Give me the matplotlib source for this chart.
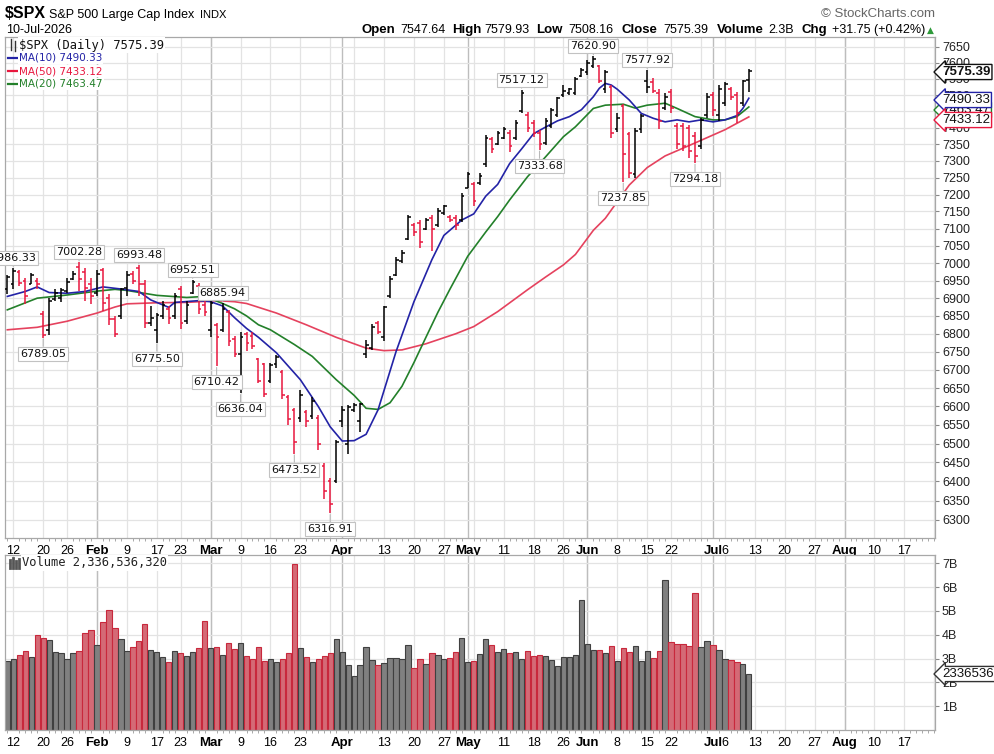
import numpy as np
import pandas as pd
import matplotlib
matplotlib.use('Agg')
import matplotlib.pyplot as plt
from matplotlib.lines import Line2D
from matplotlib.ticker import FixedLocator, NullLocator, FuncFormatter

# trading calendar
holidays = ['2026-01-19', '2026-02-16', '2026-04-03', '2026-05-25', '2026-06-19', '2026-07-03']
first_day, last_day, axis_end = '2026-01-09', '2026-07-10', '2026-08-31'

# daily OHLC
opens = [6925, 6940, 6975, 6950, 6940, 6950, 6855, 6810, 6898, 6900,
         6920, 6955, 6990, 6975, 6940, 6915, 6980, 6900, 6840, 6850,
         6930, 6970, 6985, 6940, 6830, 6810, 6850, 6870, 6850, 6925,
         6835, 6915, 6935, 6880, 6810, 6825, 6810, 6860, 6785, 6745,
         6800, 6795, 6730, 6715, 6670, 6715, 6695, 6625, 6590, 6570,
         6585, 6575, 6570, 6440, 6400, 6400, 6560, 6500, 6590, 6560,
         6745, 6760, 6830, 6790, 6905, 6965, 7005, 7070, 7110, 7115,
         7100, 7130, 7110, 7145, 7135, 7130, 7125, 7220, 7230, 7235,
         7290, 7365, 7350, 7370, 7385, 7370, 7450, 7440, 7415, 7385,
         7355, 7405, 7440, 7500, 7505, 7505, 7560, 7570, 7590, 7590,
         7520, 7525, 7395, 7465, 7380, 7260, 7395, 7545, 7540, 7505,
         7460, 7510, 7405, 7405, 7400, 7375, 7345, 7440, 7500, 7440,
         7475, 7520, 7500, 7475, 7547.64]
highs = [6967, 6986.33, 6980, 6958, 6972, 6958, 6864, 6901, 6925, 6930,
         6958, 6976, 7002.28, 6986, 6958, 6981, 6986, 6911, 6850, 6930,
         6976, 6976, 6993.48, 6952, 6877, 6858, 6891, 6877, 6915, 6934,
         6891, 6952.51, 6943, 6891, 6891, 6830, 6885.94, 6868, 6793, 6805,
         6805, 6805, 6733, 6720, 6720, 6742, 6700, 6630, 6596, 6644,
         6590, 6626, 6578, 6448, 6410, 6510, 6600, 6603, 6610, 6610,
         6783, 6827, 6836, 6877, 6962, 7019, 7038, 7141, 7115, 7124,
         7130, 7140, 7160, 7170, 7140, 7140, 7204, 7268, 7238, 7263,
         7378, 7373, 7390, 7401, 7394, 7424, 7517.12, 7449, 7424, 7394,
         7429, 7460, 7495, 7531, 7521, 7557, 7583, 7609, 7620.90, 7594,
         7578, 7530, 7445, 7474, 7386, 7400, 7443, 7577.92, 7552, 7520,
         7505, 7520, 7414, 7416, 7407, 7386, 7431, 7505, 7510, 7531,
         7541, 7525, 7510, 7548, 7579.93]
lows = [6911, 6925, 6934, 6883, 6939, 6925, 6789.05, 6797, 6892, 6888,
        6916, 6953, 6920, 6892, 6883, 6906, 6864, 6825, 6790, 6840,
        6905, 6939, 6905, 6816, 6821, 6775.50, 6840, 6826, 6840, 6812,
        6826, 6911, 6854, 6849, 6790, 6710.42, 6805, 6766, 6735, 6636.04,
        6752, 6757, 6664, 6626, 6664, 6706, 6620, 6550, 6473.52, 6557,
        6545, 6565, 6482, 6353, 6316.91, 6395, 6545, 6473, 6585, 6532,
        6733, 6755, 6800, 6780, 6900, 6962, 7000, 7067, 7077, 7043,
        7096, 7034, 7106, 7140, 7120, 7096, 7120, 7218, 7165, 7228,
        7283, 7323, 7348, 7366, 7327, 7363, 7444, 7388, 7373, 7333.68,
        7347, 7399, 7434, 7495, 7500, 7500, 7557, 7562, 7583, 7538,
        7505, 7370, 7386, 7237.85, 7250, 7248, 7384, 7505, 7505, 7395,
        7453, 7445, 7337, 7330, 7310, 7294.18, 7337, 7431, 7437, 7420,
        7467, 7485, 7416, 7467, 7508.16]
closes = [6960, 6977, 6944, 6905, 6966, 6940, 6797, 6893, 6915, 6922,
          6945, 6970, 6955, 6930, 6905, 6970, 6885, 6840, 6800, 6925,
          6965, 6950, 6940, 6830, 6845, 6852, 6880, 6845, 6905, 6830,
          6880, 6945, 6870, 6860, 6885, 6790, 6870, 6780, 6745, 6790,
          6775, 6765, 6670, 6635, 6712, 6735, 6630, 6565, 6505, 6630,
          6560, 6615, 6500, 6375, 6340, 6505, 6590, 6598, 6605, 6608,
          6770, 6820, 6805, 6875, 6955, 7010, 7030, 7135, 7090, 7060,
          7125, 7100, 7150, 7165, 7125, 7110, 7195, 7260, 7180, 7255,
          7370, 7335, 7385, 7395, 7345, 7415, 7505, 7400, 7385, 7350,
          7420, 7455, 7490, 7512, 7518, 7550, 7578, 7600, 7612, 7545,
          7570, 7385, 7430, 7320, 7265, 7390, 7435, 7525, 7512, 7420,
          7495, 7460, 7350, 7345, 7330, 7315, 7425, 7495, 7455, 7520,
          7535, 7495, 7445, 7543.64, 7575.39]
prev_close = 6920.0

# volume in billions
volumes_b = [2.91, 2.98, 3.16, 3.33, 3.08, 3.97, 3.87, 3.78, 3.26, 3.22,
             2.98, 3.22, 3.33, 4.06, 4.22, 3.57, 4.53, 5.06, 4.28, 3.83,
             3.33, 3.47, 3.73, 4.46, 3.38, 3.26, 3.05, 2.87, 3.33, 3.22,
             3.12, 3.26, 3.43, 4.57, 3.43, 3.47, 3.16, 3.66, 3.39, 3.66,
             3.12, 2.98, 3.47, 2.91, 2.98, 2.87, 2.98, 3.22, 6.99, 3.43,
             3.08, 2.87, 2.98, 3.12, 3.22, 3.83, 3.26, 2.73, 2.28, 2.73,
             3.47, 2.94, 2.73, 2.81, 3.02, 3.02, 2.98, 3.57, 2.59, 2.98,
             2.77, 3.22, 3.16, 2.98, 3.02, 3.26, 3.87, 2.87, 2.91, 3.19,
             3.83, 3.57, 3.26, 3.40, 3.22, 3.26, 2.98, 3.33, 3.12, 3.16,
             3.12, 2.94, 2.67, 3.08, 3.08, 3.16, 5.47, 3.61, 3.38, 3.38,
             3.22, 3.52, 2.91, 3.43, 3.26, 3.52, 2.91, 3.33, 3.02, 3.33,
             6.32, 3.68, 3.61, 3.61, 3.52, 5.75, 3.47, 3.73, 3.57, 3.38,
             2.98, 2.94, 2.87, 2.77, 2.336536320]

# moving averages (bar index, value)
ma10_idx = [0, 3, 5, 7, 10, 13, 16, 19, 22, 24, 26, 27, 28, 32, 34, 36, 38, 40, 42, 45,
            49, 52, 54, 56, 58, 60, 62, 65, 68, 71, 73, 76, 78, 80, 82, 84, 86, 88, 90, 92,
            94, 96, 98, 99, 100, 101, 102, 104, 106, 108, 110, 112, 114, 116, 118, 120, 122, 123, 124]
ma10_val = [6905, 6919, 6932, 6916, 6914, 6919, 6932, 6926, 6919, 6895, 6881, 6874, 6888, 6893, 6890, 6878, 6845, 6815, 6790, 6747,
            6673, 6600, 6545, 6507, 6508, 6525, 6591, 6750, 6890, 7010, 7080, 7125, 7143, 7195, 7230, 7292, 7336, 7382, 7402, 7421,
            7434, 7455, 7495, 7521, 7536, 7531, 7518, 7485, 7444, 7429, 7418, 7424, 7418, 7424, 7418, 7424, 7437, 7459, 7490.33]
ma20_idx = [0, 5, 10, 15, 18, 20, 25, 30, 33, 36, 38, 40, 42, 44, 48, 51, 55, 58, 60, 62,
            64, 66, 68, 70, 72, 74, 77, 80, 82, 84, 87, 90, 93, 95, 98, 100, 103, 105, 107, 110,
            112, 115, 118, 120, 122, 124]
ma20_val = [6867, 6900, 6909, 6920, 6925, 6922, 6908, 6902, 6905, 6885, 6870, 6850, 6825, 6811, 6770, 6737, 6673, 6630, 6595, 6592,
            6610, 6655, 6720, 6790, 6860, 6925, 7020, 7090, 7135, 7184, 7253, 7312, 7373, 7403, 7459, 7469, 7472, 7460, 7469, 7475,
            7459, 7434, 7424, 7424, 7434, 7463.47]
ma50_idx = [0, 5, 10, 15, 18, 20, 25, 30, 35, 38, 40, 45, 50, 55, 60, 63, 66, 70, 75, 78,
            82, 87, 90, 93, 95, 98, 100, 104, 107, 110, 115, 120, 124]
ma50_val = [6811, 6818, 6835, 6858, 6875, 6884, 6887, 6888, 6893, 6890, 6885, 6858, 6825, 6790, 6760, 6753, 6755, 6772, 6800, 6820,
            6862, 6924, 6960, 6995, 7025, 7095, 7130, 7228, 7280, 7315, 7354, 7394, 7433.12]

high_marks = [1, 12, 22, 31, 36, 86, 98, 107]
low_marks = [6, 25, 35, 39, 48, 54, 89, 103, 115]

tick_dates = ['2026-01-12', '2026-01-20', '2026-01-26', '2026-02-02', '2026-02-09', '2026-02-17', '2026-02-23',
              '2026-03-02', '2026-03-09', '2026-03-16', '2026-03-23', '2026-04-01', '2026-04-13', '2026-04-20',
              '2026-04-27', '2026-05-01', '2026-05-11', '2026-05-18', '2026-05-26', '2026-06-01', '2026-06-08',
              '2026-06-15', '2026-06-22', '2026-07-01', '2026-07-06', '2026-07-13', '2026-07-20', '2026-07-27',
              '2026-08-03', '2026-08-10', '2026-08-17']
tick_text = ['12', '20', '26', 'Feb', '9', '17', '23', 'Mar', '9', '16', '23', 'Apr', '13', '20', '27', 'May',
             '11', '18', '26', 'Jun', '8', '15', '22', 'Jul', '6', '13', '20', '27', 'Aug', '10', '17']

price_ticks = list(range(6300, 7651, 50))
vol_ticks = [1, 2, 3, 4, 5, 6, 7]

# ---------------------------------------------------------------
days = pd.bdate_range(first_day, axis_end)
days = days[~days.isin(pd.to_datetime(holidays))]
n = len(closes)
x = np.arange(n)

opens = np.array(opens); highs = np.array(highs); lows = np.array(lows); closes = np.array(closes)
up = closes > np.r_[prev_close, closes[:-1]]

W, H = 995, 754
fig = plt.figure(figsize=(W / 100, H / 100), dpi=100)
def fx(p): return p / W
def fy(p): return 1 - p / H

ax = fig.add_axes([fx(5), fy(538), fx(930), 501 / H])
axv = fig.add_axes([fx(5), fy(730), fx(930), 175 / H])

SANS = 'Liberation Sans'
VER = 'DejaVu Sans'
MONO = 'DejaVu Sans Mono'
RED = '#e8173e'
BLUE = '#2323a6'
GREEN = '#23802a'
MARED = '#e5425e'

# grid: weekly lines plus month starts
dser = pd.Series(days)
wk = dser.groupby(dser.dt.isocalendar().week.values).transform('min')
week_idx = sorted(set(np.where(dser.values == wk.values)[0]) - {0})
mon = dser.groupby(dser.dt.month.values).transform('min')
month_idx = sorted(set(np.where(dser.values == mon.values)[0]) - {0})
for a in (ax, axv):
    for i in week_idx:
        a.axvline(i, color='#e3e3e3', lw=0.9, zorder=0)
    for i in month_idx:
        a.axvline(i, color='#bdbdbd', lw=1.0, zorder=0)

# price panel
ax.plot(ma50_idx, ma50_val, color=MARED, lw=1.2, zorder=2)
ax.plot(ma20_idx, ma20_val, color=GREEN, lw=1.2, zorder=2)
ax.plot(ma10_idx, ma10_val, color=BLUE, lw=1.2, zorder=2)
bar_col = np.where(up, '#000000', RED)
ax.vlines(x, lows, highs, colors=bar_col, lw=1.1, zorder=3)
ax.hlines(opens, x - 0.45, x, colors=bar_col, lw=1.1, zorder=3)
ax.hlines(closes, x, x + 0.45, colors=bar_col, lw=1.1, zorder=3)

ax.set_yscale('log')
ax.set_ylim(6253, 7681)
ax.yaxis.set_major_locator(FixedLocator(price_ticks))
ax.yaxis.set_minor_locator(NullLocator())
ax.yaxis.set_major_formatter(FuncFormatter(lambda v, p: f'{v:.0f}'))
ax.yaxis.tick_right()
ax.grid(axis='y', color='#e3e3e3', lw=0.9, zorder=0)

# labelled swing highs / lows
box = dict(boxstyle='square,pad=0.18', fc='white', ec='#c2c2c2', lw=0.8)
for i in high_marks:
    ax.annotate(f'{highs[i]:.2f}', xy=(i, highs[i]), xytext=(0, 10), textcoords='offset pixels',
                ha='center', va='center', fontsize=8, family=VER, color='#111', bbox=box, zorder=5,
                arrowprops=dict(arrowstyle='-', color='#b8b8b8', lw=0.8, shrinkA=0, shrinkB=1))
for i in low_marks:
    ax.annotate(f'{lows[i]:.2f}', xy=(i, lows[i]), xytext=(0, -16), textcoords='offset pixels',
                ha='center', va='center', fontsize=8, family=VER, color='#111', bbox=box, zorder=5,
                arrowprops=dict(arrowstyle='-', color='#b8b8b8', lw=0.8, shrinkA=0, shrinkB=1))

# volume panel
vol = np.array(volumes_b) * 1e9
axv.bar(x, vol, width=0.88, color=np.where(up, '#808080', '#d46a76'),
        edgecolor=np.where(up, '#404040', '#c8283c'), lw=0.8, zorder=2)
axv.set_ylim(0, 7.35e9)
axv.yaxis.set_major_locator(FixedLocator([v * 1e9 for v in vol_ticks]))
axv.yaxis.set_major_formatter(FuncFormatter(lambda v, p: f'{v / 1e9:.0f}B'))
axv.yaxis.tick_right()
axv.grid(axis='y', color='#e3e3e3', lw=0.9, zorder=0)

# shared x styling
tick_pos = [days.get_loc(pd.Timestamp(d)) for d in tick_dates]
for a in (ax, axv):
    a.set_xlim(-0.385, 155.13)
    a.set_axisbelow(True)
    a.xaxis.set_major_locator(FixedLocator(tick_pos))
    a.set_xticklabels(tick_text)
    a.xaxis.set_minor_locator(FixedLocator(np.arange(len(days))))
    a.tick_params(axis='x', which='major', length=0, pad=5)
    a.tick_params(axis='x', which='minor', length=2, color='#9a9a9a', width=0.6)
    a.tick_params(axis='y', length=3, width=0.8, color='#888888', pad=2)
    for lab in a.get_xticklabels():
        lab.set_family(SANS)
        if lab.get_text().isalpha():
            lab.set_fontweight('bold'); lab.set_fontsize(9.5)
        else:
            lab.set_fontsize(9)
    for lab in a.get_yticklabels():
        lab.set_family(SANS); lab.set_fontsize(9); lab.set_color('#222222')
    for s in a.spines.values():
        s.set_color('#a8a8a8'); s.set_linewidth(0.9)

# header
fig.text(fx(5), fy(14), '$SPX', fontsize=11.5, fontweight='bold', family=SANS, va='center')
fig.text(fx(49), fy(15), 'S&P 500 Large Cap Index', fontsize=9, family=SANS, va='center')
fig.text(fx(200), fy(15), 'INDX', fontsize=8, family=SANS, va='center')
fig.text(fx(6), fy(30), '10-Jul-2026', fontsize=9, family=SANS, va='center')
fig.text(fx(935), fy(14), '\u00a9 StockCharts.com', fontsize=9.5, family=SANS, color='#666666',
         va='center', ha='right')
head = [('Open', 362, True), ('7547.64', 400, False), ('High', 452, True), ('7579.93', 484, False),
        ('Low', 536, True), ('7508.16', 568, False), ('Close', 622, True), ('7575.39', 663, False),
        ('Volume', 717, True), ('2.3B', 768, False), ('Chg', 802, True), ('+31.75 (+0.42%)', 832, False)]
for t, px, b in head:
    fig.text(fx(px), fy(30), t, fontsize=9.5 if b else 9, fontweight='bold' if b else 'normal',
             family=SANS, va='center')
fig.text(fx(927), fy(30), '\u25b2', fontsize=6.5, family=VER, color='#2e9a3a', va='center')

# in-panel legends
white = dict(boxstyle='square,pad=0.1', fc='white', ec='none')
fig.text(fx(19), fy(45), '$SPX (Daily) 7575.39', color='#111111', fontsize=8.7, family=MONO,
         va='center', ha='left', bbox=white)
for txt, yy, c in [('MA(10) 7490.33', 58, BLUE), ('MA(50) 7433.12', 71, RED), ('MA(20) 7463.47', 84, GREEN)]:
    fig.text(fx(19), fy(yy), txt, color=c, fontsize=7.5, family=VER, va='center', ha='left', bbox=white)
    fig.add_artist(Line2D([8, 18], [H - yy, H - yy], color=c, lw=1.6, transform=None))
fig.text(fx(22), fy(563), 'Volume 2,336,536,320', color='#222222', fontsize=8.7, family=MONO,
         va='center', ha='left', bbox=white)
# little chart icons
for xx, y0, y1 in [(11, 39, 50), (15, 41, 51)]:
    fig.add_artist(Line2D([xx, xx], [H - y0, H - y1], color='#333333', lw=1.0, transform=None))
for xx, y0 in [(10, 560), (13, 558), (16, 561), (19, 559)]:
    fig.add_artist(Line2D([xx, xx], [H - y0, H - 568], color='#555555', lw=2.0, transform=None))

# right-hand value tags
def tag(yy, txt, ec, bold=False):
    fig.text(fx(942), fy(yy), txt, fontsize=9.5, family=SANS, fontweight='bold' if bold else 'normal',
             va='center', ha='left', color='#111111',
             bbox=dict(boxstyle='larrow,pad=0.12', fc='white', ec=ec, lw=1.0))
tag(110, '7463.47', GREEN)
tag(100, '7490.33', BLUE)
tag(120, '7433.12', RED)
tag(72, '7575.39', '#111111', bold=True)
tag(674, '2336536320', '#333333')

fig.savefig('out.png', dpi=100, facecolor='white')
